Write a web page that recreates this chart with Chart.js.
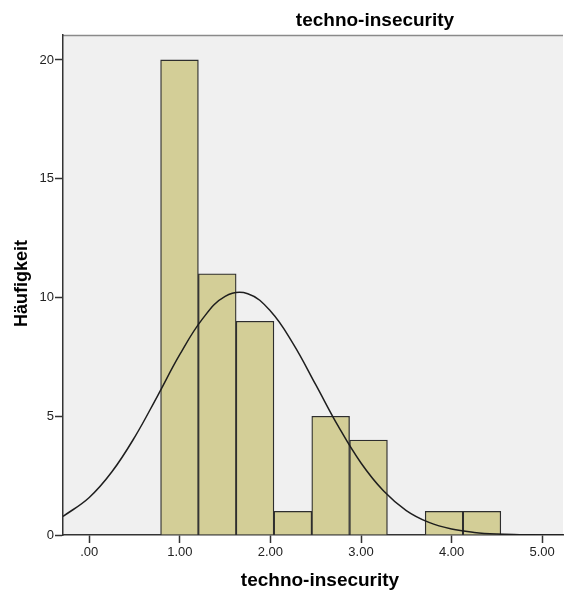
<!DOCTYPE html>
<html>
<head>
<meta charset="utf-8">
<script src="https://cdn.jsdelivr.net/npm/chart.js@4.4.1/dist/chart.umd.min.js"></script>
<style>
html,body{margin:0;padding:0;background:#fff;}
#wrap{width:564px;height:595px;position:relative;}
</style>
</head>
<body>
<div id="wrap"><canvas id="c" width="564" height="595"></canvas></div>
<script>
// Histogram bins (centers of bins)
const binCenters = [0.996, 1.413, 1.830, 2.248, 2.665, 3.083, 3.500, 3.917, 4.335];
const binCounts  = [20, 11, 9, 1, 5, 4, 0, 1, 1];
// Normal curve points
const curveX = [-0.29, 0.0, 0.25, 0.5, 0.75, 1.0, 1.25, 1.5, 1.75, 2.0, 2.25, 2.5, 2.75, 3.0, 3.25, 3.5, 3.75, 4.0, 4.25, 4.5, 4.75, 5.0, 5.23];
const curveY = [0.78, 1.58, 2.66, 4.11, 5.83, 7.60, 9.10, 10.05, 10.16, 9.43, 8.06, 6.33, 4.57, 3.03, 1.85, 1.03, 0.53, 0.25, 0.11, 0.04, 0.015, 0.005, 0.0];
const xTicks = [0, 1, 2, 3, 4, 5];
const xTickLabels = [".00", "1.00", "2.00", "3.00", "4.00", "5.00"];
const yTicks = [0, 5, 10, 15, 20];
const titleText = "techno-insecurity";
const xTitle = "techno-insecurity";
const yTitle = "Häufigkeit";

const FONT = "'Liberation Sans', Arial, sans-serif";

const bgPlugin = {
  id: 'bg',
  beforeDraw(chart) {
    const {ctx, chartArea: a} = chart;
    ctx.save();
    ctx.fillStyle = '#f0f0f0';
    ctx.fillRect(a.left, a.top, a.right - a.left, a.bottom - a.top);
    ctx.strokeStyle = '#8a8a8a';
    ctx.lineWidth = 1.5;
    ctx.beginPath();
    ctx.moveTo(a.left, a.top + 0.5);
    ctx.lineTo(a.right, a.top + 0.5);
    ctx.stroke();
    ctx.restore();
  },
  afterDraw(chart) {
    const {ctx} = chart;
    ctx.save();
    ctx.fillStyle = '#000';
    ctx.textAlign = 'center';
    ctx.textBaseline = 'alphabetic';
    ctx.font = "bold 19px " + FONT;
    ctx.fillText(titleText, 375, 25.5);
    ctx.fillText(xTitle, 320, 585.5);
    ctx.translate(27, 283.5);
    ctx.rotate(-Math.PI / 2);
    ctx.font = "bold 18px " + FONT;
    ctx.fillText(yTitle, 0, 0);
    ctx.restore();
  }
};

new Chart(document.getElementById('c'), {
  type: 'bar',
  data: {
    datasets: [
      {
        type: 'line',
        data: curveX.map((x, i) => ({x: x, y: curveY[i]})),
        borderColor: '#1e1e1e',
        borderWidth: 1.5,
        pointRadius: 0,
        tension: 0.4,
        fill: false,
        order: 0
      },
      {
        type: 'bar',
        data: binCenters.map((x, i) => ({x: x, y: binCounts[i]})),
        backgroundColor: '#d3ce97',
        borderColor: '#2e2e2e',
        borderWidth: 1.3,
        barPercentage: 1,
        categoryPercentage: 1,
        order: 1
      }
    ]
  },
  options: {
    responsive: false,
    animation: false,
    layout: {padding: {top: 35, right: 1, left: 0, bottom: 0}},
    plugins: {legend: {display: false}, tooltip: {enabled: false}, title: {display: false}},
    scales: {
      x: {
        type: 'linear',
        offset: false,
        min: -0.29,
        max: 5.23,
        afterBuildTicks(scale) { scale.ticks = xTicks.map(v => ({value: v})); },
        afterFit(scale) { scale.height = 60; },
        ticks: {
          callback: (v) => xTickLabels[xTicks.indexOf(v)],
          font: {family: FONT, size: 13},
          color: '#222',
          padding: 2,
          maxRotation: 0,
          autoSkip: false
        },
        grid: {display: true, offset: false, drawOnChartArea: false, drawTicks: true, tickLength: 8, tickWidth: 1.5, color: '#333'},
        border: {display: true, color: '#333', width: 1.5},
        title: {display: false, text: xTitle}
      },
      y: {
        type: 'linear',
        min: 0,
        max: 21.05,
        afterBuildTicks(scale) { scale.ticks = yTicks.map(v => ({value: v})); },
        afterFit(scale) { scale.width = 63; },
        ticks: {
          font: {family: FONT, size: 13},
          color: '#222',
          padding: 1
        },
        grid: {display: true, drawOnChartArea: false, drawTicks: true, tickLength: 8, tickWidth: 1.5, color: '#333'},
        border: {display: true, color: '#333', width: 1.5},
        title: {display: false, text: yTitle}
      }
    }
  },
  plugins: [bgPlugin]
});
</script>
</body>
</html>
